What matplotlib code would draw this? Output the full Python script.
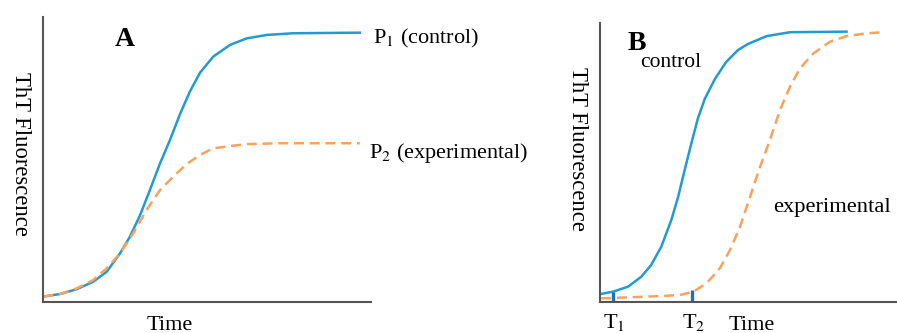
import matplotlib
matplotlib.use("Agg")
import matplotlib.pyplot as plt

plt.rcParams['font.family'] = ['Liberation Serif', 'DejaVu Serif']
plt.rcParams['mathtext.fontset'] = 'stix'

# panel A: time (0-100) vs ThT fluorescence (0-100)
a_time_ctrl = [0.1, 5.2, 10.3, 15.3, 19.4, 23.5, 26.5, 29.6, 32.6, 35.7, 38.7, 41.8, 44.8,
               47.9, 51.9, 57.0, 62.1, 68.2, 76.3, 96.6]
a_fluo_ctrl = [1.9, 2.8, 4.5, 7.1, 10.6, 17.1, 22.9, 30.5, 39.3, 48.7, 56.8, 66.0, 73.9,
               80.5, 86.1, 90.2, 92.5, 93.7, 94.3, 94.5]
a_time_exp = [0.1, 5.2, 10.3, 15.3, 19.4, 23.5, 27.5, 31.6, 35.7, 39.7, 43.8, 47.9, 51.8,
              57.0, 62.1, 72.3, 96.6]
a_fluo_exp = [1.9, 2.8, 4.8, 7.7, 11.8, 17.1, 24.1, 32.3, 39.3, 44.0, 48.4, 51.6, 53.9,
              54.7, 55.4, 55.7, 55.7]

# panel B
b_time_ctrl = [0.4, 4.4, 9.5, 14.0, 17.3, 20.7, 24.1, 26.4, 28.6, 30.8, 33.1, 35.4, 38.8,
               42.6, 46.6, 50.0, 56.3, 64.2, 83.3]
b_fluo_ctrl = [2.9, 3.7, 5.5, 9.1, 13.3, 19.8, 29.4, 37.7, 47.3, 56.6, 65.9, 72.8, 79.9,
               86.0, 90.3, 92.5, 95.3, 96.7, 96.9]
b_time_exp = [0.4, 10.6, 21.9, 27.0, 31.5, 36.0, 40.5, 43.9, 47.3, 50.7, 54.1, 57.4, 60.8,
              64.2, 67.6, 72.1, 77.7, 83.3, 90.1, 95.7]
b_fluo_exp = [1.3, 1.7, 2.2, 2.5, 3.7, 6.7, 12.1, 18.6, 27.0, 37.7, 48.5, 58.1, 68.8,
              77.2, 83.8, 89.1, 93.3, 95.3, 96.3, 96.7]
lag_times = [4.4, 31.1]     # T1, T2
lag_heights = [3.6, 4.3]
lag_labels = ['T$_1$', 'T$_2$']

blue = '#219bd4'
orange = '#f8a25e'
dark = '#555555'

fig = plt.figure(figsize=(8.97, 3.33), dpi=100)
axA = fig.add_axes([43/897, 31/333, 328/897, 285/333])
axB = fig.add_axes([600/897, 31/333, 296/897, 279/333])

for ax in (axA, axB):
    ax.set_xlim(0, 100)
    ax.set_ylim(0, 100)
    ax.set_xticks([])
    ax.set_yticks([])
    for s in ('top', 'right'):
        ax.spines[s].set_visible(False)
    for s in ('left', 'bottom'):
        ax.spines[s].set_color(dark)
        ax.spines[s].set_linewidth(1.5)

# panel A
axA.plot(a_time_ctrl, a_fluo_ctrl, color=blue, lw=1.8, solid_joinstyle='round')
axA.plot(a_time_exp, a_fluo_exp, color=orange, lw=1.8, dashes=(4, 2.3))
axA.text(25.0, 92.0, 'A', fontsize=20, fontweight='bold', ha='center', va='center')
axA.text(100.6, 92.6, 'P$_1$ (control)', fontsize=16, ha='left', va='center', clip_on=False)
axA.text(99.4, 52.3, 'P$_2$ (experimental)', fontsize=16, ha='left', va='center', clip_on=False)
fig.text(20/897, 1 - 154/333, 'ThT Fluorescence', fontsize=16.3, rotation=270,
         ha='center', va='center')
fig.text(170/897, 1 - 325/333, 'Time', fontsize=16, ha='center', va='center')

# panel B
axB.plot(b_time_ctrl, b_fluo_ctrl, color=blue, lw=1.8, solid_joinstyle='round')
axB.plot(b_time_exp, b_fluo_exp, color=orange, lw=1.8, dashes=(4, 2.3), clip_on=False)
for t, h in zip(lag_times, lag_heights):
    axB.plot([t, t], [0, h], color='#1b6fc4', lw=2.4, solid_capstyle='butt')
axB.text(12.5, 92.5, 'B', fontsize=20, fontweight='bold', ha='center', va='center')
axB.text(13.5, 86.0, 'control', fontsize=15.5, ha='left', va='center')
axB.text(58.4, 34.0, 'experimental', fontsize=16.2, ha='left', va='center')
for t, lab in zip(lag_times, lag_labels):
    axB.text(t + 0.5, -7.5, lab, fontsize=16, ha='center', va='center', clip_on=False)
fig.text(577/897, 1 - 149/333, 'ThT Fluorescence', fontsize=16.3, rotation=270,
         ha='center', va='center')
fig.text(752/897, 1 - 325/333, 'Time', fontsize=16, ha='center', va='center')

fig.savefig('out.png', dpi=100)
